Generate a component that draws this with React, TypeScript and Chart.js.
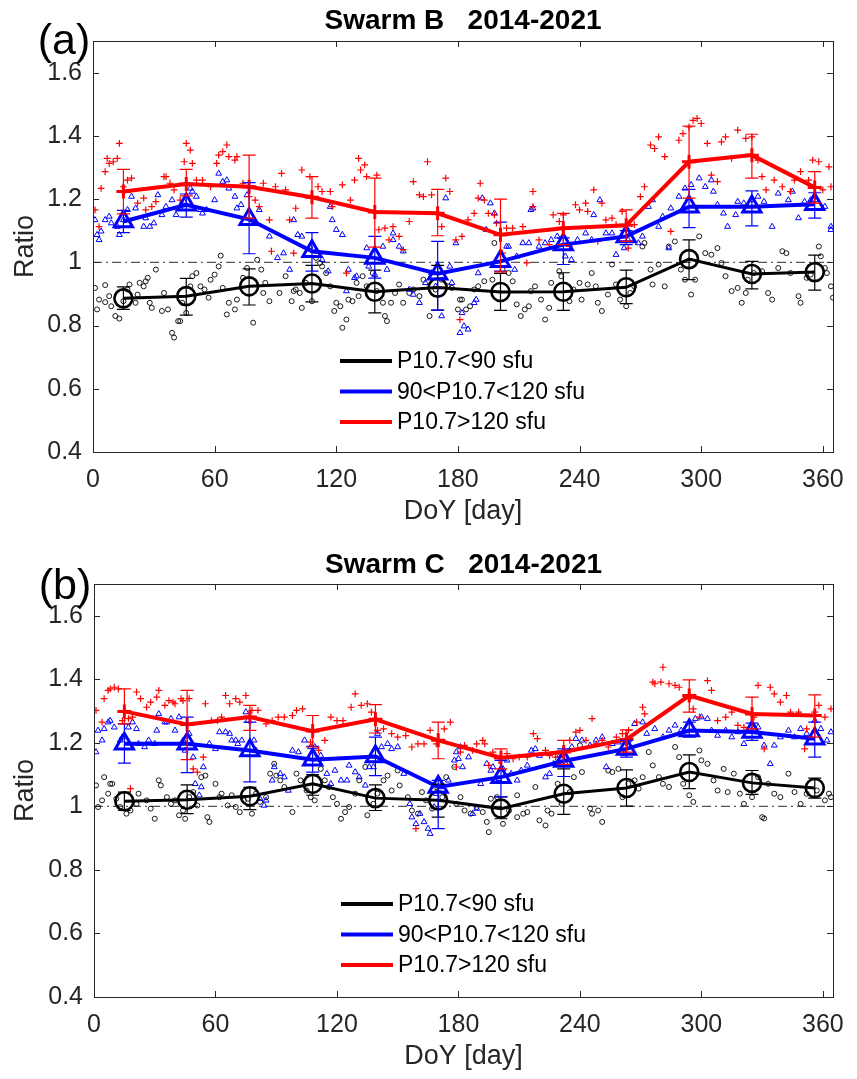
import React, { useEffect, useRef } from 'react';
import { Chart, registerables } from 'chart.js';

Chart.register(...registerables);

// ---------------- data ----------------
const MEAN_DAYS = [15, 46, 77, 108, 139, 170, 201, 232, 263, 294, 325, 356];
const X_TICKS = [0, 60, 120, 180, 240, 300, 360];
const Y_TICKS = [0.4, 0.6, 0.8, 1, 1.2, 1.4, 1.6];
const REF_LEVEL = 1;
const LEGEND_LABELS = ['P10.7<90 sfu', '90<P10.7<120 sfu', 'P10.7>120 sfu'];
const TITLE_B = 'Swarm B   2014-2021';
const TITLE_C = 'Swarm C   2014-2021';

// Swarm B – monthly means and error bounds
const B_LOW_MEAN = [0.886, 0.893, 0.924, 0.933, 0.907, 0.92, 0.906, 0.907, 0.921, 1.01, 0.963, 0.969];
const B_LOW_LO = [0.851, 0.833, 0.865, 0.875, 0.84, 0.849, 0.848, 0.848, 0.869, 0.945, 0.916, 0.912];
const B_LOW_HI = [0.922, 0.949, 0.979, 0.99, 0.975, 0.99, 0.965, 0.967, 0.975, 1.071, 1.003, 1.023];
const B_MID_MEAN = [1.129, 1.182, 1.136, 1.035, 1.014, 0.964, 1.003, 1.056, 1.082, 1.176, 1.176, 1.184];
const B_MID_LO = [1.094, 1.143, 1.027, 0.972, 0.95, 0.849, 0.972, 0.993, 1.056, 1.11, 1.115, 1.14];
const B_MID_HI = [1.164, 1.216, 1.252, 1.094, 1.082, 1.066, 1.127, 1.077, 1.1, 1.231, 1.226, 1.22];
const B_HIGH_MEAN = [1.224, 1.248, 1.239, 1.206, 1.159, 1.155, 1.087, 1.108, 1.117, 1.318, 1.339, 1.237];
const B_HIGH_LO = [1.153, 1.21, 1.14, 1.14, 1.048, 1.084, 0.97, 1.056, 1.066, 1.203, 1.266, 1.187];
const B_HIGH_HI = [1.294, 1.294, 1.339, 1.271, 1.266, 1.231, 1.2, 1.155, 1.166, 1.431, 1.405, 1.287];

// Swarm B – daily ratios
const B_LOW_DAYS = [1, 3, 6, 8, 9, 11, 13, 17, 18, 22, 23, 26, 27, 29, 31, 34, 37, 39, 40, 42, 46, 48, 51, 55, 57, 60, 63, 66, 70, 74, 76, 79, 81, 84, 87, 92, 95, 99, 103, 105, 110, 113, 117, 120, 123, 125, 128, 133, 138, 143, 145, 149, 153, 158, 163, 166, 172, 177, 181,
  182, 186, 190, 197, 198, 202, 207, 211, 216, 221, 223, 226, 230, 235, 240, 244, 248, 251, 256, 260, 265, 271, 275, 279, 282, 287, 292, 295, 299, 305, 310, 315, 320, 323, 330, 335, 340, 344, 349, 354, 358, 361, 364,
  2, 6, 15, 21, 25, 28, 35, 43, 44, 49, 53, 58, 62, 64, 67, 71, 83, 85, 98, 100, 102, 108, 112, 115, 119, 122, 126, 130, 131, 135, 140, 144, 147, 151, 156, 161, 169, 175, 180,
  184, 188, 193, 205, 209, 213, 215, 218, 225, 231, 237, 241, 246, 249, 254, 258, 263, 267, 272, 276, 284, 290, 297, 302, 308, 312, 318, 322, 326, 333, 338, 342, 348, 352, 359, 362, 365];
const B_LOW_VALS = [0.919, 0.882, 0.928, 0.893, 0.861, 0.83, 0.822, 0.914, 0.93, 0.898, 0.935, 0.94, 0.951, 0.856, 0.977, 0.846, 0.851, 0.777, 0.762, 0.814, 0.84, 0.924, 0.966, 0.914, 0.888, 0.961, 1.021, 0.835, 0.851, 0.951, 0.982, 0.809, 1.008, 0.903, 0.877, 0.903, 0.956, 0.909, 0.856, 0.935, 1.014, 0.987, 0.924, 0.872, 0.793, 0.819, 0.877, 0.956, 0.966, 0.872, 0.814, 0.903, 0.872, 0.914, 0.945, 0.83, 0.945, 0.919, 0.882,
  0.882, 0.861, 0.924, 0.945, 1.061, 0.977, 0.94, 0.83, 0.909, 0.882, 0.819, 0.935, 0.972, 0.877, 0.935, 0.93, 0.924, 0.846, 0.993, 0.882, 0.903, 1.05, 0.977, 0.993, 0.924, 1.066, 0.945, 0.898, 1.082, 1.024, 0.998, 0.909, 0.872, 0.945, 0.972, 0.882, 1.035, 0.966, 0.872, 0.961, 1.05, 0.982, 0.924,
  0.851, 0.874, 0.877, 0.872, 0.924, 0.872, 0.903, 0.814, 0.872, 0.956, 0.924, 0.945, 0.987, 0.919, 0.872, 0.882, 0.977, 0.935, 0.877, 0.914, 0.903, 0.877, 0.998, 0.966, 0.846, 0.861, 0.882, 0.935, 0.893, 0.924, 0.909, 0.83, 0.872, 0.93, 0.903, 0.893, 0.914, 0.924, 0.851,
  0.851, 0.914, 0.94, 0.966, 0.867, 0.851, 0.861, 0.924, 0.856, 0.956, 0.914, 0.882, 0.966, 0.872, 0.898, 0.93, 0.861, 0.924, 1.061, 0.93, 1.05, 0.977, 0.945, 1.029, 1.045, 0.956, 0.919, 0.903, 0.966, 0.903, 0.982, 1.029, 0.893, 0.951, 1.019, 0.966, 0.888];
const B_MID_DAYS = [1, 3, 4, 6, 9, 13, 17, 19, 25, 28, 32, 36, 41, 45, 48, 51, 54, 60, 62, 66, 70, 73, 79, 82, 87, 91, 97, 99, 103, 110, 116, 117, 120, 125, 129, 135, 139, 143, 148, 151, 156, 161, 167, 172, 174, 177, 179, 181,
  182, 185, 189, 190, 192, 196, 198, 204, 208, 212, 216, 220, 226, 233, 239, 243, 247, 250, 256, 262, 269, 274, 279, 284, 289, 295, 299, 305, 308, 313, 318, 325, 331, 335, 338, 345, 348, 354, 361, 364,
  2, 8, 12, 15, 21, 26, 30, 34, 39, 43, 49, 53, 56, 64, 67, 71, 76, 94, 101, 107, 113, 118, 123, 126, 130, 136, 145, 148, 153, 158, 164, 169, 176,
  183, 188, 194, 205, 209, 215, 217, 223, 229, 236, 246, 253, 258, 264, 271, 276, 281, 285, 292, 302, 306, 311, 317, 321, 328, 343, 351, 357, 364];
const B_MID_VALS = [1.134, 1.071, 1.098, 1.134, 1.124, 1.087, 1.166, 1.208, 1.113, 1.113, 1.213, 1.176, 1.15, 1.192, 1.234, 1.208, 1.155, 1.197, 1.281, 1.26, 1.208, 1.182, 1.134, 1.166, 1.082, 1.014, 0.977, 1.134, 1.082, 1.035, 0.972, 1.176, 1.103, 0.909, 0.951, 1.045, 0.961, 1.05, 1.092, 1.05, 0.914, 0.872, 0.966, 0.83, 1.203, 0.935, 1.061, 0.777,
  0.84, 0.788, 0.882, 0.966, 1.203, 1.187, 1.155, 1.05, 0.977, 1.061, 1.166, 1.05, 1.071, 1.019, 1.071, 1.092, 1.15, 1.197, 1.092, 1.045, 1.061, 1.176, 1.113, 1.045, 1.208, 1.245, 1.266, 1.26, 1.182, 1.113, 1.192, 1.197, 1.192, 1.113, 1.218, 1.224, 1.14, 1.197, 1.176, 1.103,
  1.087, 1.145, 1.113, 1.134, 1.171, 1.14, 1.124, 1.15, 1.197, 1.171, 1.224, 1.166, 1.166, 1.255, 1.234, 1.171, 1.213, 1.029, 1.087, 1.05, 1.008, 1.134, 1.087, 0.977, 0.956, 0.987, 0.977, 1.071, 1.035, 0.898, 0.935, 0.924, 0.987,
  0.798, 0.872, 1.103, 1.05, 1.019, 1.061, 1.171, 1.061, 1.082, 1.008, 1.071, 1.092, 1.024, 1.071, 1.082, 1.197, 1.145, 1.171, 1.234, 1.239, 1.224, 1.155, 1.15, 1.187, 1.208, 1.197, 1.192, 1.197, 1.113];
const B_HIGH_DAYS = [1, 3, 4, 6, 7, 10, 13, 15, 19, 22, 26, 31, 35, 38, 43, 45, 46, 49, 54, 58, 61, 64, 66, 70, 74, 77, 82, 84, 87, 88, 93, 97, 99, 100, 103, 111, 117, 118, 123, 125, 129, 131, 134, 140, 141, 146, 148, 153, 156, 158, 163, 165, 172, 174, 176, 179, 181,
  182, 188, 190, 191, 195, 199, 202, 207, 214, 217, 220, 227, 232, 235, 238, 243, 247, 251, 256, 261, 264, 270, 272, 275, 277, 279, 282, 289, 294, 296, 300, 303, 308, 312, 315, 318, 322, 328, 332, 340, 346, 349, 355, 360, 363,
  8, 12, 17, 25, 29, 36, 40, 48, 51, 62, 67, 71, 80, 90, 95, 107, 113, 127, 132, 135, 144, 151, 161, 167,
  185, 193, 198, 204, 212, 217, 225, 230, 240, 244, 249, 253, 258, 267, 285, 291, 298, 305, 310, 325, 330, 336, 344, 353, 358, 364];
const B_HIGH_VALS = [1.166, 1.113, 1.234, 1.287, 1.329, 1.318, 1.376, 1.239, 1.266, 1.187, 1.166, 1.192, 1.271, 1.25, 1.197, 1.318, 1.376, 1.313, 1.26, 1.239, 1.313, 1.35, 1.371, 1.323, 1.25, 1.208, 1.176, 1.25, 1.134, 1.035, 1.281, 1.134, 1.029, 1.171, 1.292, 1.239, 1.224, 1.176, 1.245, 0.966, 1.26, 1.329, 1.308, 1.276, 1.103, 1.071, 1.113, 1.04, 1.129, 1.255, 1.208, 1.318, 1.113, 1.266, 1.224, 1.071, 0.819,
  1.082, 1.155, 1.203, 1.25, 1.155, 1.124, 1.029, 1.108, 0.998, 1.224, 1.071, 1.15, 1.15, 1.05, 1.182, 1.187, 1.229, 1.187, 1.14, 1.161, 1.045, 1.208, 1.239, 1.371, 1.36, 1.397, 1.334, 1.386, 1.428, 1.449, 1.439, 1.376, 1.255, 1.397, 1.329, 1.418, 1.392, 1.323, 1.229, 1.239, 1.26, 1.287, 1.323, 1.229, 1.302,
  1.313, 1.329, 1.26, 1.203, 1.176, 1.271, 1.229, 1.355, 1.26, 1.339, 1.334, 1.334, 1.197, 1.239, 1.229, 1.271, 1.224, 1.197, 1.292, 1.271, 1.108, 1.082, 1.213, 1.213,
  1.134, 1.197, 1.15, 1.108, 1.113, 1.176, 1.056, 1.129, 1.166, 1.161, 1.066, 1.134, 1.119, 1.119, 1.098, 1.407, 1.455, 1.276, 1.381, 1.397, 1.271, 1.26, 1.224, 1.26, 1.318, 1.239];

// Swarm C – monthly means and error bounds
const C_LOW_MEAN = [1.016, 1.021, 1.032, 1.071, 1.026, 1.019, 0.993, 1.04, 1.058, 1.108, 1.074, 1.058];
const C_LOW_LO = [0.987, 0.977, 0.99, 1.035, 0.987, 0.966, 0.961, 0.975, 1.001, 1.056, 1.038, 1.026];
const C_LOW_HI = [1.045, 1.068, 1.06, 1.1, 1.068, 1.07, 1.03, 1.118, 1.115, 1.162, 1.113, 1.089];
const C_MID_MEAN = [1.197, 1.197, 1.176, 1.147, 1.157, 1.061, 1.092, 1.143, 1.181, 1.239, 1.234, 1.213];
const C_MID_LO = [1.136, 1.106, 1.077, 1.108, 1.097, 0.93, 1.03, 1.094, 1.155, 1.218, 1.208, 1.155];
const C_MID_HI = [1.26, 1.281, 1.265, 1.189, 1.218, 1.082, 1.145, 1.181, 1.208, 1.265, 1.262, 1.265];
const C_HIGH_MEAN = [1.299, 1.258, 1.281, 1.237, 1.274, 1.208, 1.153, 1.171, 1.211, 1.349, 1.291, 1.286];
const C_HIGH_LO = [1.26, 1.147, 1.239, 1.187, 1.231, 1.15, 1.118, 1.132, 1.171, 1.297, 1.244, 1.218];
const C_HIGH_HI = [1.37, 1.365, 1.318, 1.286, 1.32, 1.265, 1.181, 1.208, 1.241, 1.398, 1.344, 1.351];

// Swarm C – daily ratios
const C_LOW_DAYS = [1, 2, 5, 8, 11, 13, 16, 18, 21, 22, 26, 30, 32, 36, 40, 42, 45, 49, 51, 53, 56, 57, 60, 63, 66, 68, 72, 76, 78, 80, 85, 87, 89, 92, 94, 98, 100, 105, 109, 112, 116, 120, 122, 126, 131, 134, 135, 140, 145, 150, 155, 160, 162, 167, 169, 174, 178, 179,
  181, 183, 189, 192, 195, 196, 202, 205, 209, 212, 218, 223, 226, 229, 235, 237, 240, 245, 249, 251, 254, 259, 264, 269, 274, 276, 281, 287, 291, 294, 299, 303, 306, 311, 313, 316, 321, 328, 330, 331, 336, 343, 349, 352, 357, 363,
  4, 7, 9, 28, 33, 38, 44, 47, 55, 62, 70, 74, 82, 90, 102, 107, 114, 118, 124, 129, 138, 143, 147, 151, 157, 164, 172,
  186, 194, 199, 209, 214, 220, 224, 231, 241, 246, 256, 261, 267, 271, 279, 284, 289, 296, 300, 308, 319, 325, 333, 339, 346, 361, 364];
const C_LOW_VALS = [1.066, 0.998, 1.092, 1.071, 1.024, 0.998, 0.977, 0.987, 1.008, 1.04, 1.019, 0.961, 1.082, 1.029, 1.019, 0.972, 0.961, 1.045, 1.003, 1.092, 0.966, 0.951, 1.071, 1.04, 1.003, 1.035, 0.982, 1.024, 0.977, 1.04, 1.029, 1.103, 1.134, 1.082, 1.061, 0.982, 1.103, 1.05, 1.019, 1.118, 1.061, 1.008, 0.961, 0.998, 1.082, 1.124, 0.972, 1.04, 1.097, 1.113, 1.029, 0.977, 1.045, 0.993, 1.061, 1.092, 1.124, 1.008,
  1.029, 0.987, 0.998, 0.982, 0.919, 1.024, 0.945, 0.987, 1.035, 0.977, 1.061, 0.94, 0.977, 1.071, 1.045, 1.092, 1.192, 0.993, 0.987, 0.951, 1.113, 1.118, 1.071, 1.056, 1.171, 1.129, 1.071, 1.187, 1.071, 1.035, 1.176, 1.134, 1.082, 1.118, 1.045, 1.103, 1.008, 1.092, 0.966, 0.962, 1.04, 1.103, 1.008, 1.04, 1.05, 1.04,
  1.019, 1.04, 1.071, 0.993, 1.066, 1.008, 0.987, 1.029, 1.097, 1.029, 0.998, 1.019, 1.014, 1.097, 1.082, 1.029, 1.082, 1.029, 0.982, 1.04, 1.008, 1.082, 1.05, 1.066, 0.987, 1.019, 1.029,
  0.977, 0.951, 1.029, 0.966, 0.982, 0.956, 0.987, 1.008, 1.108, 0.977, 1.108, 1.029, 1.082, 1.092, 1.092, 1.061, 1.155, 1.014, 1.145, 1.05, 1.04, 1.029, 1.071, 1.029, 1.045, 1.019, 1.029];
const C_MID_DAYS = [1, 2, 4, 5, 7, 10, 13, 17, 19, 22, 25, 30, 32, 36, 40, 42, 45, 47, 50, 53, 54, 57, 60, 65, 68, 71, 75, 79, 82, 84, 88, 92, 96, 98, 104, 109, 115, 117, 122, 126, 131, 136, 140, 145, 150, 153, 156, 159, 163, 166, 169, 175, 178, 181,
  180, 185, 187, 191, 194, 200, 204, 209, 214, 218, 223, 227, 233, 238, 245, 251, 253, 259, 264, 267, 273, 277, 284, 290, 297, 303, 308, 315, 321, 328, 334, 339, 346, 352, 359, 364,
  8, 14, 21, 27, 31, 35, 38, 44, 49, 52, 62, 67, 70, 73, 76, 80, 85, 89, 94, 101, 107, 112, 119, 125, 129, 134, 138, 142, 147, 157, 161, 165, 168, 172, 179,
  182, 189, 196, 197, 202, 206, 211, 216, 220, 225, 230, 236, 241, 248, 256, 262, 271, 281, 287, 294, 300, 305, 312, 318, 325, 331, 336, 343, 349, 356, 362];
const C_MID_VALS = [1.171, 1.239, 1.208, 1.244, 1.265, 1.249, 1.208, 1.249, 1.265, 1.197, 1.187, 1.197, 1.291, 1.265, 1.239, 1.281, 1.176, 1.229, 1.071, 1.061, 1.124, 1.197, 1.181, 1.234, 1.208, 1.197, 1.297, 1.208, 1.024, 1.003, 1.082, 1.103, 1.05, 1.176, 1.208, 1.187, 1.103, 1.071, 1.082, 1.129, 1.092, 1.124, 1.229, 1.197, 1.187, 1.103, 1.008, 0.945, 0.951, 0.914, 1.04, 1.082, 1.145, 1.187,
  1.15, 1.155, 0.977, 1.071, 1.134, 1.087, 1.145, 1.082, 1.129, 1.181, 1.092, 1.134, 1.134, 1.213, 1.192, 1.218, 1.124, 1.202, 1.208, 1.26, 1.229, 1.244, 1.239, 1.239, 1.276, 1.276, 1.223, 1.218, 1.197, 1.249, 1.134, 1.218, 1.218, 1.229, 1.244, 1.234,
  1.27, 1.218, 1.244, 1.208, 1.239, 1.265, 1.276, 1.208, 1.155, 1.035, 1.234, 1.229, 1.208, 1.208, 1.27, 1.176, 1.019, 1.124, 1.092, 1.171, 1.187, 1.16, 1.113, 1.082, 1.108, 1.066, 1.124, 1.187, 1.181, 0.966, 0.977, 0.93, 0.998, 1.061, 1.171,
  1.124, 0.993, 1.113, 1.124, 1.118, 1.103, 1.113, 1.176, 1.16, 1.103, 1.16, 1.187, 1.208, 1.208, 1.197, 1.166, 1.265, 1.218, 1.255, 1.265, 1.281, 1.239, 1.239, 1.234, 1.239, 1.192, 1.192, 1.239, 1.244, 1.27, 1.208];
const C_HIGH_DAYS = [1, 4, 5, 7, 10, 14, 18, 19, 21, 26, 31, 35, 39, 43, 47, 49, 54, 55, 58, 63, 65, 70, 75, 78, 85, 91, 98, 103, 107, 111, 117, 123, 127, 129, 135, 140, 147, 154, 157, 159, 163, 166, 173, 176, 179,
  181, 187, 192, 195, 200, 207, 214, 217, 223, 228, 235, 238, 246, 251, 258, 264, 268, 271, 276, 280, 281, 287, 294, 299, 303, 308, 315, 321, 328, 331, 334, 339, 342, 348, 351, 356, 361, 364,
  8, 12, 17, 23, 28, 32, 37, 40, 44, 51, 61, 67, 72, 81, 88, 94, 100, 114, 120, 132, 137, 143, 150, 160, 169,
  183, 189, 193, 197, 204, 210, 219, 225, 231, 240, 243, 248, 254, 261, 272, 277, 284, 289, 296, 305, 312, 318, 326, 336, 344, 352, 358];
const C_HIGH_VALS = [1.302, 1.265, 1.339, 1.365, 1.375, 1.27, 1.056, 1.281, 1.36, 1.312, 1.344, 1.318, 1.328, 1.339, 1.339, 1.118, 1.155, 1.323, 1.27, 1.281, 1.349, 1.339, 1.349, 1.302, 1.26, 1.281, 1.286, 1.307, 1.202, 1.176, 1.281, 1.27, 1.312, 1.354, 1.323, 1.239, 1.229, 1.223, 1.187, 0.93, 1.197, 1.239, 1.244, 1.265, 1.124,
  1.171, 1.176, 1.208, 1.129, 1.145, 1.15, 1.155, 1.229, 1.176, 1.155, 1.208, 1.234, 1.276, 1.208, 1.218, 1.239, 1.265, 1.312, 1.391, 1.391, 1.438, 1.381, 1.339, 1.281, 1.396, 1.27, 1.297, 1.249, 1.381, 1.181, 1.375, 1.328, 1.349, 1.297, 1.181, 1.297, 1.281, 1.307,
  1.37, 1.37, 1.276, 1.339, 1.328, 1.365, 1.333, 1.323, 1.333, 1.108, 1.27, 1.323, 1.328, 1.302, 1.27, 1.281, 1.302, 1.208, 1.27, 1.318, 1.297, 1.244, 1.218, 1.197, 1.197,
  1.192, 1.197, 1.197, 1.171, 1.166, 1.155, 1.213, 1.16, 1.166, 1.239, 1.208, 1.197, 1.187, 1.229, 1.291, 1.386, 1.386, 1.375, 1.307, 1.365, 1.281, 1.255, 1.281, 1.354, 1.297, 1.244, 1.318];

// ---------------- styling ----------------
const FONT = 'Liberation Sans, Arial, Helvetica, sans-serif';
const AXIS_COLOR = '#262626';
const SERIES_STYLE = [
  { color: '#000000', style: 'circle', meanRadius: 9, meanBorder: 2.6, lineWidth: 3, dotRadius: 2.5, dotBorder: 0.9 },
  { color: '#0000ff', style: 'triangle', meanRadius: 10.5, meanBorder: 3, lineWidth: 4, dotRadius: 3.4, dotBorder: 1 },
  { color: '#ff0000', style: 'cross', meanRadius: 7, meanBorder: 3, lineWidth: 4, dotRadius: 3.4, dotBorder: 1.2 },
];

type SeriesData = { mean: number[]; lo: number[]; hi: number[]; days: number[]; vals: number[] };
type Layout = {
  canvasTop: number; canvasHeight: number; left: number; top: number; right: number; bottom: number;
  xTitlePad: number; tagX: number; tagY: number; titleBaseline: number;
};

const PANELS: { title: string; tag: string; series: SeriesData[]; layout: Layout }[] = [
  {
    title: TITLE_B, tag: '(a)',
    series: [
      { mean: B_LOW_MEAN, lo: B_LOW_LO, hi: B_LOW_HI, days: B_LOW_DAYS, vals: B_LOW_VALS },
      { mean: B_MID_MEAN, lo: B_MID_LO, hi: B_MID_HI, days: B_MID_DAYS, vals: B_MID_VALS },
      { mean: B_HIGH_MEAN, lo: B_HIGH_LO, hi: B_HIGH_HI, days: B_HIGH_DAYS, vals: B_HIGH_VALS },
    ],
    layout: { canvasTop: 0, canvasHeight: 540, left: 93, top: 41, right: 835, bottom: 452, xTitlePad: 12, tagX: 64, tagY: 54, titleBaseline: 29 },
  },
  {
    title: TITLE_C, tag: '(b)',
    series: [
      { mean: C_LOW_MEAN, lo: C_LOW_LO, hi: C_LOW_HI, days: C_LOW_DAYS, vals: C_LOW_VALS },
      { mean: C_MID_MEAN, lo: C_MID_LO, hi: C_MID_HI, days: C_MID_DAYS, vals: C_MID_VALS },
      { mean: C_HIGH_MEAN, lo: C_HIGH_LO, hi: C_HIGH_HI, days: C_HIGH_DAYS, vals: C_HIGH_VALS },
    ],
    layout: { canvasTop: 540, canvasHeight: 539, left: 94, top: 44, right: 838, bottom: 457, xTitlePad: 6, tagX: 65, tagY: 59, titleBaseline: 33 },
  },
];

const WIDTH = 857;

function buildChart(canvas: HTMLCanvasElement, panel: (typeof PANELS)[number]) {
  const L = panel.layout;
  const datasets: any[] = [];
  panel.series.forEach((s, i) => {
    const st = SERIES_STYLE[i];
    datasets.push({
      type: 'line',
      label: LEGEND_LABELS[i],
      data: MEAN_DAYS.map((d, k) => ({ x: d, y: s.mean[k] })),
      borderColor: st.color,
      borderWidth: st.lineWidth,
      pointStyle: st.style,
      pointRadius: st.meanRadius,
      pointBorderWidth: st.meanBorder,
      pointBorderColor: st.color,
      pointBackgroundColor: 'rgba(0,0,0,0)',
      fill: false,
      tension: 0,
      order: 2 - i,
    });
  });
  panel.series.forEach((s, i) => {
    const st = SERIES_STYLE[i];
    datasets.push({
      type: 'scatter',
      label: LEGEND_LABELS[i] + ' daily',
      data: s.days.map((d, k) => ({ x: d, y: s.vals[k] })),
      showLine: false,
      pointStyle: st.style,
      pointRadius: st.dotRadius,
      pointBorderWidth: st.dotBorder,
      borderColor: st.color,
      pointBorderColor: st.color,
      backgroundColor: 'rgba(0,0,0,0)',
      pointBackgroundColor: 'rgba(0,0,0,0)',
      order: 5 - i,
    });
  });

  const decor = {
    id: 'decor',
    beforeDatasetsDraw(chart: any) {
      const { ctx, chartArea: a, scales } = chart;
      const py = scales.y.getPixelForValue(REF_LEVEL);
      ctx.save();
      ctx.strokeStyle = '#555555';
      ctx.lineWidth = 1.2;
      ctx.setLineDash([9, 4, 2, 4]);
      ctx.beginPath();
      ctx.moveTo(a.left, py);
      ctx.lineTo(a.right, py);
      ctx.stroke();
      ctx.restore();
    },
    afterDatasetsDraw(chart: any) {
      const { ctx, scales } = chart;
      ctx.save();
      ctx.lineWidth = 1.2;
      const cap = 6.5;
      panel.series.forEach((s, i) => {
        ctx.strokeStyle = SERIES_STYLE[i].color;
        MEAN_DAYS.forEach((d, k) => {
          const px = scales.x.getPixelForValue(d);
          const pl = scales.y.getPixelForValue(s.lo[k]);
          const ph = scales.y.getPixelForValue(s.hi[k]);
          ctx.beginPath();
          ctx.moveTo(px, pl); ctx.lineTo(px, ph);
          ctx.moveTo(px - cap, pl); ctx.lineTo(px + cap, pl);
          ctx.moveTo(px - cap, ph); ctx.lineTo(px + cap, ph);
          ctx.stroke();
        });
      });
      ctx.restore();
    },
    afterDraw(chart: any) {
      const { ctx, chartArea: a, scales } = chart;
      ctx.save();
      ctx.strokeStyle = AXIS_COLOR;
      ctx.lineWidth = 1;
      ctx.strokeRect(Math.round(a.left) + 0.5, Math.round(a.top) + 0.5, Math.round(a.right - a.left), Math.round(a.bottom - a.top));
      const tl = 6;
      ctx.beginPath();
      X_TICKS.forEach((v) => {
        const px = Math.round(scales.x.getPixelForValue(v)) + 0.5;
        ctx.moveTo(px, a.bottom); ctx.lineTo(px, a.bottom - tl);
        ctx.moveTo(px, a.top); ctx.lineTo(px, a.top + tl);
      });
      Y_TICKS.forEach((v) => {
        const py = Math.round(scales.y.getPixelForValue(v)) + 0.5;
        ctx.moveTo(a.left, py); ctx.lineTo(a.left + tl, py);
        ctx.moveTo(a.right, py); ctx.lineTo(a.right - tl, py);
      });
      ctx.stroke();
      ctx.fillStyle = '#000000';
      ctx.font = `bold 28px ${FONT}`;
      ctx.textAlign = 'center';
      ctx.textBaseline = 'alphabetic';
      ctx.fillText(panel.title, (a.left + a.right) / 2, L.titleBaseline);
      ctx.font = `43px ${FONT}`;
      ctx.fillText(panel.tag, L.tagX, L.tagY);
      ctx.textAlign = 'left';
      ctx.textBaseline = 'middle';
      ctx.font = `23px ${FONT}`;
      LEGEND_LABELS.forEach((lab, i) => {
        const y = a.top + 320 + i * 30.5;
        const x0 = a.left + 247;
        ctx.strokeStyle = SERIES_STYLE[i].color;
        ctx.lineWidth = 4;
        ctx.beginPath();
        ctx.moveTo(x0, y); ctx.lineTo(x0 + 52, y);
        ctx.stroke();
        ctx.fillStyle = '#000000';
        ctx.fillText(lab, x0 + 57, y + 1);
      });
      ctx.restore();
    },
  };

  return new Chart(canvas, {
    type: 'line',
    data: { datasets },
    options: {
      animation: false,
      responsive: false,
      devicePixelRatio: 1,
      events: [],
      layout: { padding: { left: 0, top: L.top, right: WIDTH - L.right, bottom: 0 } },
      plugins: { legend: { display: false }, tooltip: { enabled: false }, title: { display: false } },
      scales: {
        x: {
          type: 'linear',
          min: 0,
          max: 365,
          afterBuildTicks: (s: any) => { s.ticks = X_TICKS.map((v) => ({ value: v })); },
          afterFit: (s: any) => { s.height = L.canvasHeight - L.bottom; },
          grid: { display: false, drawTicks: false },
          border: { display: false },
          ticks: { font: { family: FONT, size: 25 }, color: AXIS_COLOR, padding: 13, maxRotation: 0, autoSkip: false, callback: (v: any) => String(v) },
          title: { display: true, text: 'DoY [day]', font: { family: FONT, size: 27 }, color: AXIS_COLOR, padding: { top: 0, bottom: L.xTitlePad } },
        },
        y: {
          type: 'linear',
          min: 0.4,
          max: 1.7,
          afterBuildTicks: (s: any) => { s.ticks = Y_TICKS.map((v) => ({ value: v })); },
          afterFit: (s: any) => { s.width = L.left; },
          grid: { display: false, drawTicks: false },
          border: { display: false },
          ticks: { font: { family: FONT, size: 25 }, color: AXIS_COLOR, padding: 11, autoSkip: false, callback: (v: any) => String(Math.round(Number(v) * 10) / 10) },
          title: { display: true, text: 'Ratio', font: { family: FONT, size: 27 }, color: AXIS_COLOR, padding: { top: 9, bottom: 0 } },
        },
      },
    } as any,
    plugins: [decor],
  });
}

function Panel({ panel }: { panel: (typeof PANELS)[number] }) {
  const ref = useRef<HTMLCanvasElement | null>(null);
  useEffect(() => {
    if (!ref.current) return;
    const chart = buildChart(ref.current, panel);
    return () => chart.destroy();
  }, [panel]);
  const L = panel.layout;
  return (
    <canvas
      ref={ref}
      width={WIDTH}
      height={L.canvasHeight}
      style={{ position: 'absolute', left: 0, top: L.canvasTop, width: WIDTH, height: L.canvasHeight, display: 'block' }}
    />
  );
}

export default function App() {
  return (
    <div style={{ position: 'absolute', left: 0, top: 0, width: WIDTH, height: 1079, background: '#ffffff' }}>
      {PANELS.map((p) => (
        <Panel key={p.tag} panel={p} />
      ))}
    </div>
  );
}
